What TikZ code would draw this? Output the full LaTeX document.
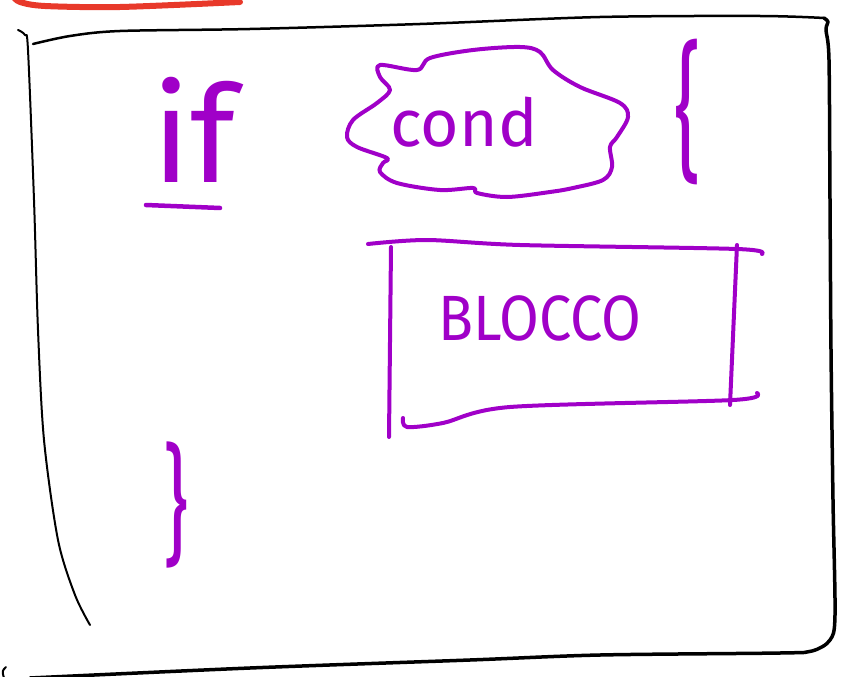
\documentclass[tikz,border=0pt]{standalone}
\usepackage{fontspec}
\setsansfont{Fira Sans}

\begin{document}
\begin{tikzpicture}[
    x=1pt, y=-1pt,
    font=\sffamily,
    % --- Styles ---
    pen/.style={draw=ink, line width=4.5pt, line cap=round, line join=round},
    frame/.style={draw=black, line width=3.5pt, line cap=round, line join=round},
    word/.style={text=ink, inner sep=0pt, anchor=center},
    curly/.style={text=ink, inner sep=0pt, anchor=center,
        font=\sffamily\fontsize{150}{150}\selectfont}
]

    % ── Colour Palette ──────────────────────────────────────────────────
    \definecolor{ink}{RGB}{160, 0, 200}      % marker purple
    \definecolor{marker}{RGB}{232, 57, 42}   % red stroke

    \useasboundingbox (0,0) rectangle (841,677);

    % ── OUTER FRAME ─────────────────────────────────────────────────────

    % red stroke, cut by the top edge
    \draw[marker, line width=6pt, line cap=round]
        plot[smooth] coordinates {(13,-4) (20,2) (45,6) (120,7) (240,2)};

    % top
    \draw[frame, line width=2.5pt]
        plot[smooth] coordinates {(33,44) (70,36) (120,31) (250,29) (420,24) (600,17) (760,16) (824,18)};
    % right and bottom
    \draw[frame]
        plot[smooth] coordinates {(824,18) (828,22) (826,30) (829,60) (830,200) (831,350)
            (833,500) (835,615) (830,640) (812,651) (780,653) (600,655) (470,660) (250,668) (30,678)};
    % left
    \draw[frame, line width=2pt]
        plot[smooth] coordinates {(18,30) (25,35) (28,50) (34,200) (38,330) (44,440) (58,540) (75,595) (90,625)};
    \draw[frame, line width=2pt] (6,667) .. controls (2,671) .. (4,678);

    % ── IF HEADER ───────────────────────────────────────────────────────

    \node[word, font=\sffamily\fontsize{135}{135}\selectfont] (kwif) at (194,130) {if};
    \draw[pen] (146,205) -- (220,208);

    % condition cloud
    \draw[pen, line width=4pt]
        plot[smooth cycle, tension=0.55] coordinates {
            (380,65) (417,70) (430,58) (473,50) (520,47) (540,52) (553,70) (580,87)
            (620,103) (628,117) (617,137) (610,147) (612,167) (603,180) (573,188)
            (550,192) (507,197) (477,193) (473,188) (440,190) (397,183) (380,172)
            (383,163) (387,158) (357,147) (347,137) (353,120) (377,103) (390,90) (380,77)};
    \node[word, font=\sffamily\fontsize{66}{66}\selectfont] (cond) at (464,122) {cond};

    \node[curly, xscale=0.55] (open) at (688,112) {\{};

    % ── BLOCK ───────────────────────────────────────────────────────────

    \draw[pen, line width=4pt]
        plot[smooth] coordinates {(368,244) (427,240) (520,245) (737,249) (762,254)};
    \draw[pen, line width=4pt] (391,247) -- (389,437);
    \draw[pen, line width=4pt] (737,245) -- (730,405);
    \draw[pen, line width=4pt]
        plot[smooth] coordinates {(403,418) (407,427) (443,423) (510,407) (733,400) (757,393)};
    \node[word, font=\sffamily\fontsize{64}{64}\selectfont, xscale=0.9] (blocco) at (540,318) {BLOCCO};

    \node[curly, xscale=0.6, font=\sffamily\fontsize{130}{130}\selectfont] (close) at (176,505) {\}};

\end{tikzpicture}
\end{document}
